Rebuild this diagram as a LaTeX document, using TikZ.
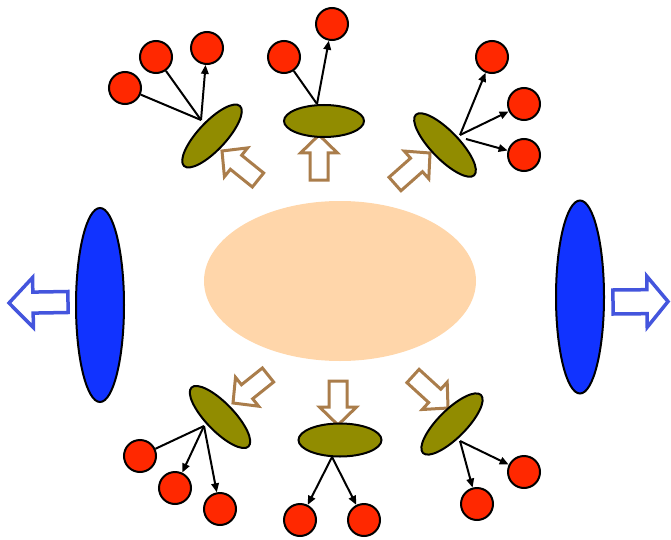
\documentclass[tikz,border=0pt]{standalone}
\usetikzlibrary{calc,arrows.meta,shapes.geometric}
\definecolor{peach}{RGB}{255,214,170}
\definecolor{bigblue}{RGB}{17,51,255}
\definecolor{olivedisc}{RGB}{145,140,0}
\definecolor{ballred}{RGB}{255,40,0}
\definecolor{brownarrow}{RGB}{170,125,75}
\definecolor{bluearrow}{RGB}{68,85,221}
\newcommand\hollowarrow[6]{%
  \coordinate (ha-h) at ($(#2)!#5!(#1)$);
  \draw[#6] ($(#1)!#3!90:(#2)$) -- ($(ha-h)!#3!90:(#2)$) -- ($(ha-h)!#4!90:(#2)$)
    -- (#2) -- ($(ha-h)!#4!-90:(#2)$) -- ($(ha-h)!#3!-90:(#2)$) -- ($(#1)!#3!-90:(#2)$) -- cycle;}
\begin{document}
\begin{tikzpicture}[x=1pt,y=-1pt,
  ball/.style={circle,draw=black,line width=2pt,fill=ballred,minimum size=32pt,inner sep=0pt},
  disc/.style={ellipse,draw=black,line width=2pt,fill=olivedisc,inner sep=0pt},
  bigdisc/.style={ellipse,draw=black,line width=2pt,fill=bigblue,inner sep=0pt},
  link/.style={line width=2pt,draw=black},
  push/.style={link,-{Triangle[length=9pt,width=7.5pt]}},
  brownhollow/.style={draw=brownarrow,line width=3pt,fill=white},
  bluehollow/.style={draw=bluearrow,line width=3.5pt,fill=white}]
\useasboundingbox (0,0) rectangle (671,540);
% centre
\node[ellipse,fill=peach,minimum width=272pt,minimum height=160pt,inner sep=0pt] (core) at (340,281) {};
% side discs
\node[bigdisc,minimum width=48pt,minimum height=194pt] (leftdisc) at (100,305) {};
\node[bigdisc,minimum width=48pt,minimum height=193pt] (rightdisc) at (580,297) {};
% blue arrows
\hollowarrow{68,302}{9,303}{10.5pt}{25pt}{24pt}{bluehollow}
\hollowarrow{613,302}{668,301.5}{12pt}{25.5pt}{21pt}{bluehollow}
% brown arrows
\hollowarrow{258,180}{222,151}{9pt}{18.5pt}{18pt}{brownhollow}
\hollowarrow{319,180}{319,135}{9pt}{18.5pt}{18pt}{brownhollow}
\hollowarrow{395,184}{430,153}{9pt}{18.5pt}{18pt}{brownhollow}
\hollowarrow{268,375}{233,403}{9pt}{18.5pt}{18pt}{brownhollow}
\hollowarrow{338,381}{338,425}{9pt}{18.5pt}{18pt}{brownhollow}
\hollowarrow{413,376}{448,408}{9pt}{18.5pt}{18pt}{brownhollow}
% olive discs
\node[disc,minimum width=82pt,minimum height=28pt,rotate=47] (d1) at (212,136) {};
\node[disc,minimum width=80pt,minimum height=32pt] (d2) at (324,121) {};
\node[disc,minimum width=84pt,minimum height=28pt,rotate=-46] (d3) at (445,145) {};
\node[disc,minimum width=82pt,minimum height=28pt,rotate=-46] (d4) at (220,417) {};
\node[disc,minimum width=83pt,minimum height=33pt] (d5) at (340,440) {};
\node[disc,minimum width=82pt,minimum height=28pt,rotate=45] (d6) at (452,424) {};
% balls
\node[ball] (b1) at (125,88) {};
\node[ball] (b2) at (156,57) {};
\node[ball] (b3) at (207,48) {};
\node[ball] (b4) at (284,57) {};
\node[ball] (b5) at (332,24) {};
\node[ball] (b6) at (492,57) {};
\node[ball] (b7) at (524,104) {};
\node[ball] (b8) at (524,155) {};
\node[ball] (b9) at (140,456) {};
\node[ball] (b10) at (175,488) {};
\node[ball] (b11) at (220,509) {};
\node[ball] (b12) at (300,520) {};
\node[ball] (b13) at (364,520) {};
\node[ball] (b14) at (477,504) {};
\node[ball] (b15) at (524,472) {};
% sources
\coordinate (s1) at (201,120);
\coordinate (s2) at (317,104);
\coordinate (s3) at (460,135);
\coordinate (s3b) at (466,139);
\coordinate (s4) at (204,426);
\coordinate (s5) at (332,457);
\coordinate (s6) at (460,441);
% links
\draw[link] (s1) -- (b1);
\draw[link] (s1) -- (b2);
\draw[push] (s1) -- (b3);
\draw[link] (s2) -- (b4);
\draw[push] (s2) -- (b5);
\draw[push] (s3) -- (b6);
\draw[push] (s3) -- (b7);
\draw[push] (s3b) -- (b8);
\draw[link] (s4) -- (b9);
\draw[push] (s4) -- (b10);
\draw[push] (s4) -- (b11);
\draw[push] (s5) -- (b12);
\draw[push] (s5) -- (b13);
\draw[push] (s6) -- (b14);
\draw[push] (s6) -- (b15);
\end{tikzpicture}
\end{document}
